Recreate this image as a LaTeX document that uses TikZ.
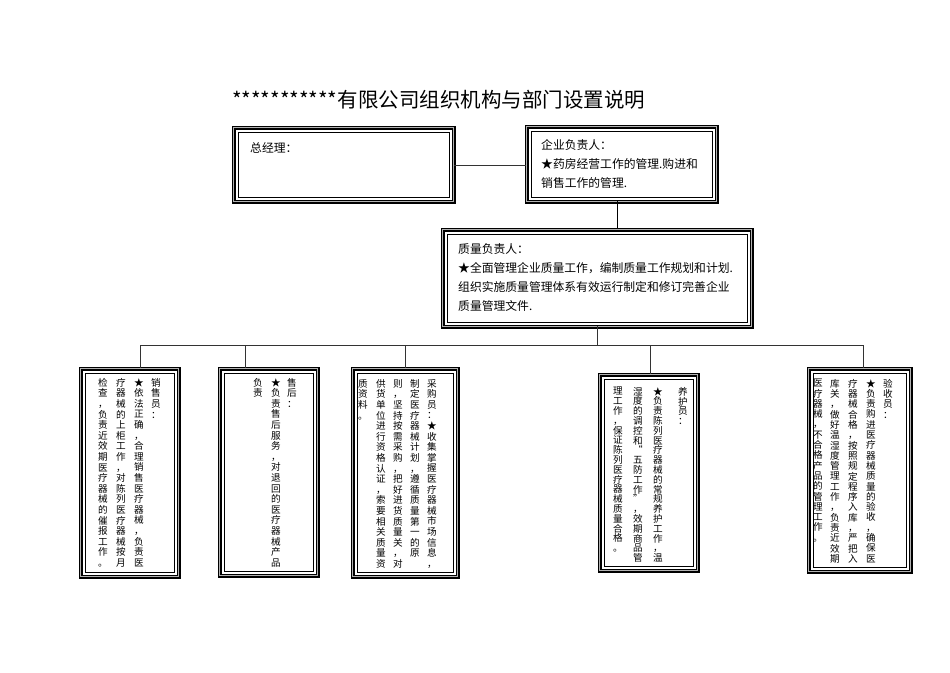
\documentclass[tikz,border=0pt]{standalone}
\usepackage{fontspec}
\setmainfont{Noto Sans CJK SC}
\makeatletter
\newdimen\vtpitch \vtpitch=10.6pt
\def\vt#1{\vbox{\baselineskip=\vtpitch\lineskiplimit=-20pt\vt@a#1\vt@end}}
\def\vt@a#1{\ifx#1\vt@end\else\hbox to 11pt{\hss#1\hss}\expandafter\vt@a\fi}
\makeatother
\tikzset{
  tribox/.style={draw, line width=1.3pt, double=gray!60, double distance=1.4pt, rectangle, inner sep=0pt, anchor=north west},
  conn/.style={line width=0.5pt, draw=black!80},
  btext/.style={font=\fontsize{11.8}{19}\selectfont, anchor=north west, align=left, inner sep=0pt},
  vcol/.style={font=\fontsize{9.6}{10.6}\selectfont, anchor=north, inner sep=0pt}
}
\newcommand{\tb}[5]{\node[tribox, minimum width=#4pt, minimum height=#5pt] (#1) at (#2,-#3) {};}
\begin{document}
\begin{tikzpicture}[x=1pt,y=1pt]
\useasboundingbox (0,0) rectangle (950,-672);
\node[font=\fontsize{20.5}{22}\selectfont, anchor=west, inner sep=0pt] (title) at (232,-100) {***********有限公司组织机构与部门设置说明};
\tb{gm}{233}{127}{220}{74}
\tb{ceo}{526}{126}{190}{75}
\tb{qm}{442}{229}{309}{97}
\tb{b1}{80}{368}{98}{208}
\tb{b2}{219}{368}{98}{207}
\tb{b3}{352}{368}{105}{208}
\tb{b4}{599}{374}{98}{196}
\tb{b5}{808}{368}{102}{203}
\foreach \n in {gm,ceo,qm,b1,b2,b3,b4,b5}
  \draw[line width=0.4pt] ([shift={(4.8,-4.8)}]\n.north west) rectangle ([shift={(-4.8,4.8)}]\n.south east);
\node[btext] (gmt) at (250,-142) {总经理：};
\node[btext] (ceot) at (541,-139) {企业负责人：\\★药房经营工作的管理.购进和\\销售工作的管理.};
\node[btext] (qmt) at (458,-243) {质量负责人：\\★全面管理企业质量工作，编制质量工作规划和计划.\\组织实施质量管理体系有效运行制定和修订完善企业\\质量管理文件.};
% connectors
\draw[conn] (gm.east |- 0,-165) -- (ceo.west |- 0,-165);
\draw[line width=1pt] (617,-201) coordinate (c1) -- (617,-229) coordinate (c2);
\coordinate (t1) at (597,-326);
\coordinate (bus) at (597,-345);
\draw[conn] (t1) -- (bus);
\draw[conn] (140,-345) -- (863,-345);
\draw[conn] (140,-345) -- (b1.north -| 140,0);
\draw[conn] (245,-345) -- (b2.north -| 245,0);
\draw[conn] (405,-345) -- (b3.north -| 405,0);
\draw[conn] (650,-345) -- (b4.north -| 650,0);
\draw[conn] (863,-345) -- (b5.north -| 863,0);
% box 1
\node[vcol] (a1) at (156,-378) {\vt{销售员：}};
\node[vcol] (a2) at (139,-378) {\vt{★依法正确，合理销售医疗器械，负责医}};
\node[vcol] (a3) at (121,-378) {\vt{疗器械的上柜工作，对陈列医疗器械按月}};
\node[vcol] (a4) at (103,-378) {\vt{检查，负责近效期医疗器械的催报工作。}};
% box 2
\node[vcol] (s1) at (292,-378) {\vt{售后：}};
\node[vcol] (s2) at (276,-378) {\vt{★负责售后服务，对退回的医疗器械产品}};
\node[vcol] (s3) at (258,-378) {\vt{负责}};
% box 3
\node[vcol] (p1) at (432,-379) {\vt{采购员：★收集掌握医疗器械市场信息，}};
\node[vcol] (p2) at (415,-379) {\vt{制定医疗器械计划，遵循质量第一的原}};
\node[vcol] (p3) at (398,-379) {\vt{则，坚持按需采购，把好进货质量关，对}};
\node[vcol] (p4) at (381,-379) {\vt{供货单位进行资格认证，索要相关质量资}};
\node[vcol] (p5) at (363,-379) {\vt{质资料。}};
% box 4
\global\vtpitch=9.8pt
\node[vcol] (y1) at (683,-387) {\vt{养护员：}};
\node[vcol] (y2) at (658,-387) {\vt{★负责陈列医疗器械的常规养护工作，温}};
\node[vcol] (y3) at (638,-387) {\vt{湿度的调控和“五防工作”，效期商品管}};
\node[vcol] (y4) at (618,-387) {\vt{理工作，保证陈列医疗器械质量合格。}};
% box 5
\global\vtpitch=10.3pt
\node[vcol] (v1) at (888,-379) {\vt{验收员：}};
\node[vcol] (v2) at (871,-379) {\vt{★负责购进医疗器械质量的验收，确保医}};
\node[vcol] (v3) at (853,-379) {\vt{疗器械合格，按照规定程序入库，严把入}};
\node[vcol] (v4) at (835,-379) {\vt{库关，做好温湿度管理工作，负责近效期}};
\node[vcol] (v5) at (818,-379) {\vt{医疗器械，不合格产品的管理工作。}};
\end{tikzpicture}
\end{document}
